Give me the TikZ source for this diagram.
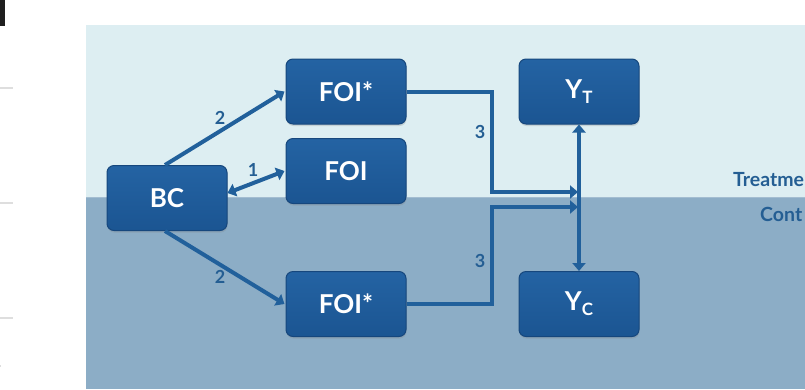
\documentclass[tikz,border=0pt]{standalone}
\usepackage{fontspec}
\setmainfont{Lato}
\usetikzlibrary{arrows.meta,shadows}
\definecolor{lightpanel}{HTML}{DDEEF2}
\definecolor{darkpanel}{HTML}{8CADC6}
\definecolor{boxtop}{HTML}{2463A3}
\definecolor{boxbot}{HTML}{1B5592}
\definecolor{boxedge}{HTML}{16477D}
\definecolor{arrowc}{HTML}{21609B}
\definecolor{labc}{HTML}{245E93}
\tikzset{
  boxnode/.style={rounded corners=7pt, draw=boxedge, line width=1pt, top color=boxtop, bottom color=boxbot,
    drop shadow={opacity=0.25, shadow xshift=0.5pt, shadow yshift=-2pt},
    minimum width=120pt, minimum height=65pt, inner sep=0pt, text=white, font=\fontsize{26}{26}\selectfont\bfseries},
  conn/.style={draw=arrowc, line width=4pt},
  tip/.style={-{Triangle[length=8pt,width=13pt]}},
  both/.style={{Triangle[length=8pt,width=13pt]}-{Triangle[length=8pt,width=13pt]}},
  numlab/.style={text=labc, font=\fontsize{18}{18}\selectfont\bfseries, inner sep=0pt},
  sidelab/.style={text=labc, font=\fontsize{19.5}{19.5}\selectfont\bfseries, inner sep=0pt, anchor=west},
  leftrule/.style={draw=black!13, line width=1.5pt}
}
\newcommand{\subT}[1]{\raisebox{-5pt}{\fontsize{17}{17}\selectfont #1}}
\begin{document}
\begin{tikzpicture}[x=1pt,y=-1pt]
\useasboundingbox (0,0) rectangle (805,389);
\clip (0,0) rectangle (805,389);
\fill[white] (0,0) rectangle (805,389);
% page decorations
\fill[black!88] (0,0) rectangle (5,26);
\draw[leftrule] (0,88) -- (13,88);
\draw[leftrule] (0,203) -- (13,203);
\draw[leftrule] (0,318) -- (13,318);
\draw[leftrule] (0,366) -- (1,366);
% panels
\fill[lightpanel] (86,25) rectangle (805,197);
\fill[darkpanel] (86,197) rectangle (805,389);
\draw[draw=darkpanel!80!white, line width=0.8pt] (86,197) -- (805,197);
% side labels (cut off by the right edge, as printed)
\node[sidelab] (treat) at (733,180) {Treatme};
\node[sidelab] (contr) at (760,214) {Cont};
% boxes
\node[boxnode] (BC) at (167,198) {BC};
\node[boxnode] (FOIa) at (346,91.5) {FOI*};
\node[boxnode] (FOI) at (346,171) {FOI};
\node[boxnode] (FOIb) at (346,304) {FOI*};
\node[boxnode] (YT) at (579,91.5) {Y\subT{T}};
\node[boxnode] (YC) at (579,304) {Y\subT{C}};
% junction coordinates
\coordinate (eT) at (492,192);
\coordinate (eC) at (492,207);
\coordinate (mT) at (578,192);
\coordinate (mC) at (578,207);
% connectors
\draw[conn, tip] ([xshift=-2pt]BC.north) -- ([xshift=-1pt]FOIa.west);
\draw[conn, both] ([yshift=5pt]BC.east) -- ([xshift=-1pt]FOI.west);
\draw[conn, tip] ([xshift=-2pt]BC.south) -- ([xshift=-1pt]FOIb.west);
\draw[conn, tip] (FOIa.east) -| (eT) -- (mT);
\draw[conn, tip] (FOIb.east) -| (eC) -- (mC);
\draw[conn, both] (YT.south) -- (YC.north);
% labels
\node[numlab] (l2a) at (220,118) {2};
\node[numlab] (l1) at (253,170) {1};
\node[numlab] (l2b) at (220,277) {2};
\node[numlab] (l3a) at (480,132) {3};
\node[numlab] (l3b) at (480,261) {3};
\end{tikzpicture}
\end{document}
